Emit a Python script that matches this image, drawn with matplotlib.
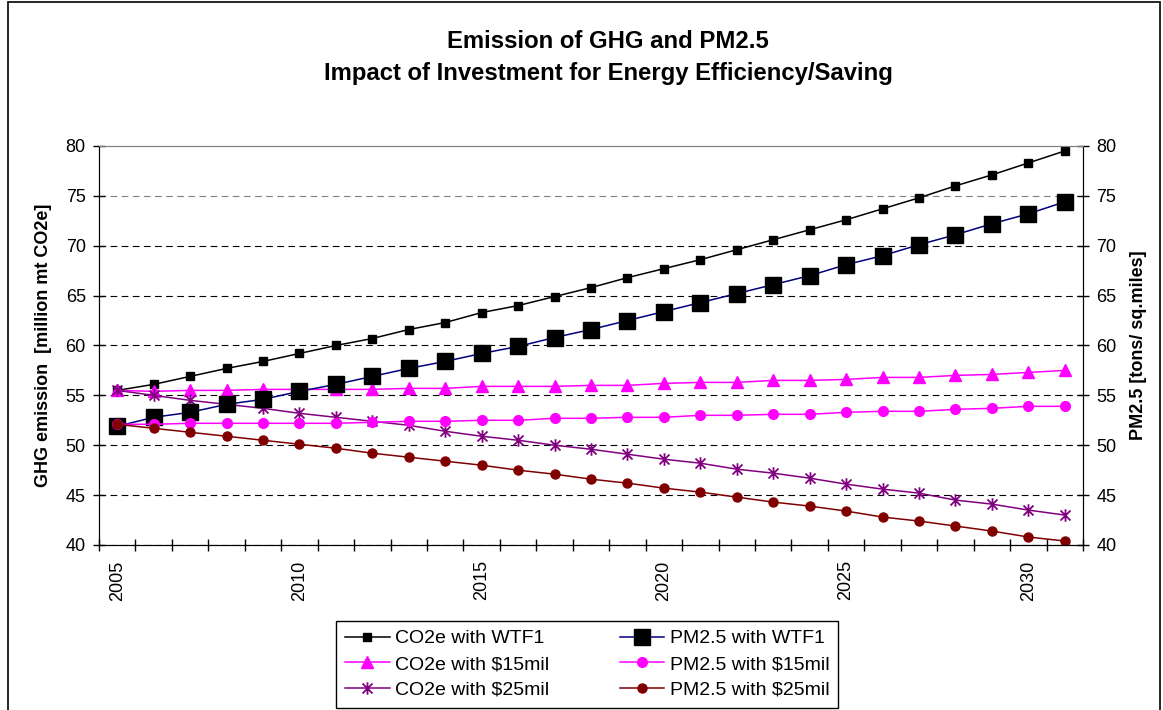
import matplotlib
matplotlib.use('Agg')
import matplotlib.pyplot as plt
from matplotlib.path import Path
from matplotlib.patches import Rectangle
from matplotlib.ticker import FixedLocator

plt.rcParams['font.family'] = ['Liberation Sans', 'DejaVu Sans']

years = list(range(2005, 2032))

co2_wtf1 = [55.5, 56.1, 56.9, 57.7, 58.4, 59.2, 60.0, 60.7, 61.6, 62.3, 63.3, 64.0, 64.9, 65.8,
            66.8, 67.7, 68.6, 69.6, 70.6, 71.6, 72.6, 73.7, 74.8, 76.0, 77.1, 78.3, 79.5]
co2_15mil = [55.5, 55.4, 55.5, 55.5, 55.6, 55.6, 55.6, 55.6, 55.7, 55.7, 55.9, 55.9, 55.9, 56.0,
             56.0, 56.2, 56.3, 56.3, 56.5, 56.5, 56.6, 56.8, 56.8, 57.0, 57.1, 57.3, 57.5]
co2_25mil = [55.5, 55.0, 54.5, 54.1, 53.7, 53.2, 52.8, 52.4, 52.0, 51.4, 50.9, 50.5, 50.0, 49.6,
             49.1, 48.6, 48.2, 47.6, 47.2, 46.7, 46.1, 45.6, 45.2, 44.5, 44.1, 43.5, 43.0]
pm_wtf1 = [51.9, 52.8, 53.3, 54.1, 54.6, 55.4, 56.1, 56.9, 57.7, 58.4, 59.2, 59.9, 60.8, 61.6,
           62.5, 63.4, 64.3, 65.2, 66.1, 67.0, 68.1, 69.0, 70.1, 71.1, 72.2, 73.2, 74.4]
pm_15mil = [52.1, 52.1, 52.2, 52.2, 52.2, 52.2, 52.2, 52.3, 52.4, 52.4, 52.5, 52.5, 52.7, 52.7,
            52.8, 52.8, 53.0, 53.0, 53.1, 53.1, 53.3, 53.4, 53.4, 53.6, 53.7, 53.9, 53.9]
pm_25mil = [52.1, 51.7, 51.3, 50.9, 50.5, 50.1, 49.7, 49.2, 48.8, 48.4, 48.0, 47.5, 47.1, 46.6,
            46.2, 45.7, 45.3, 44.8, 44.3, 43.9, 43.4, 42.8, 42.4, 41.9, 41.4, 40.8, 40.4]

star = Path([(0, -1), (0, 1), (-0.8, -0.8), (0.8, 0.8), (-0.8, 0.8), (0.8, -0.8)],
            [Path.MOVETO, Path.LINETO, Path.MOVETO, Path.LINETO, Path.MOVETO, Path.LINETO])

fig = plt.figure(figsize=(11.63, 7.10), dpi=100)
fig.patches.append(Rectangle((0.007, -0.01), 0.99, 1.007, transform=fig.transFigure,
                             fill=False, edgecolor='black', linewidth=1.2))

ax = fig.add_axes([0.0851, 0.2324, 0.8461, 0.562])
ax2 = ax.twinx()

lw = 1.1
h1, = ax.plot(years, co2_wtf1, color='black', lw=lw, marker='s', ms=5.5, mfc='black', mec='black',
              label='CO2e with WTF1')
h2, = ax.plot(years, co2_15mil, color='#FF00FF', lw=lw, marker='^', ms=8, mfc='#FF00FF', mec='#FF00FF',
              label='CO2e with $15mil')
h3, = ax.plot(years, co2_25mil, color='#800080', lw=lw, marker=star, ms=9, mew=1.3, mec='#800080',
              label='CO2e with $25mil')
h4, = ax2.plot(years, pm_wtf1, color='#000080', lw=lw, marker='s', ms=11, mfc='black', mec='black',
               label='PM2.5 with WTF1')
h5, = ax2.plot(years, pm_15mil, color='#FF00FF', lw=lw, marker='o', ms=7, mfc='#FF00FF', mec='#FF00FF',
               label='PM2.5 with $15mil')
h6, = ax2.plot(years, pm_25mil, color='#800000', lw=lw, marker='o', ms=6.5, mfc='#800000', mec='#800000',
               label='PM2.5 with $25mil')

for a in (ax, ax2):
    a.set_xlim(2004.5, 2031.5)
    a.set_ylim(40, 80)
    a.set_yticks(range(40, 81, 5))
    a.tick_params(axis='y', direction='inout', length=9, width=1, labelsize=13, pad=5)
    for s in ('left', 'right', 'bottom'):
        a.spines[s].set_color('black')
    a.spines['top'].set_color('#808080')

ax.set_axisbelow(True)
ax.grid(axis='y', color='black', linestyle=(0, (6, 4)), linewidth=0.8)
gl = ax.get_ygridlines()
gl[-2].set_color('#808080')
gl[-1].set_visible(False)

ax.set_xticks(range(2005, 2032, 5))
ax.set_xticklabels([str(y) for y in range(2005, 2032, 5)], rotation=90)
ax.xaxis.set_minor_locator(FixedLocator([y + 0.5 for y in range(2004, 2032)]))
ax.tick_params(axis='x', which='major', length=0, labelsize=13, pad=11)
ax.tick_params(axis='x', which='minor', direction='inout', length=9, width=1)
ax2.tick_params(axis='x', which='both', length=0)

ax.set_ylabel('GHG emission  [million mt CO2e]', fontsize=13, fontweight='bold', labelpad=10)
ax2.set_ylabel('PM2.5 [tons/ sq.miles]', fontsize=13, fontweight='bold', labelpad=10)

fig.text(0.523, 0.941, 'Emission of GHG and PM2.5', ha='center', va='center',
         fontsize=17.2, fontweight='bold')
fig.text(0.523, 0.897, 'Impact of Investment for Energy Efficiency/Saving', ha='center', va='center',
         fontsize=17.2, fontweight='bold')

leg = fig.legend(handles=[h1, h2, h3, h4, h5, h6], ncol=2, loc='upper center',
                 bbox_to_anchor=(0.505, 0.1254), fontsize=14, frameon=True, fancybox=False,
                 edgecolor='black', framealpha=1, handlelength=2.3, handletextpad=0.3,
                 columnspacing=3.6, labelspacing=0.42, borderpad=0.45, borderaxespad=0)
leg.get_frame().set_linewidth(1.0)

fig.savefig('out.png', dpi=100)
